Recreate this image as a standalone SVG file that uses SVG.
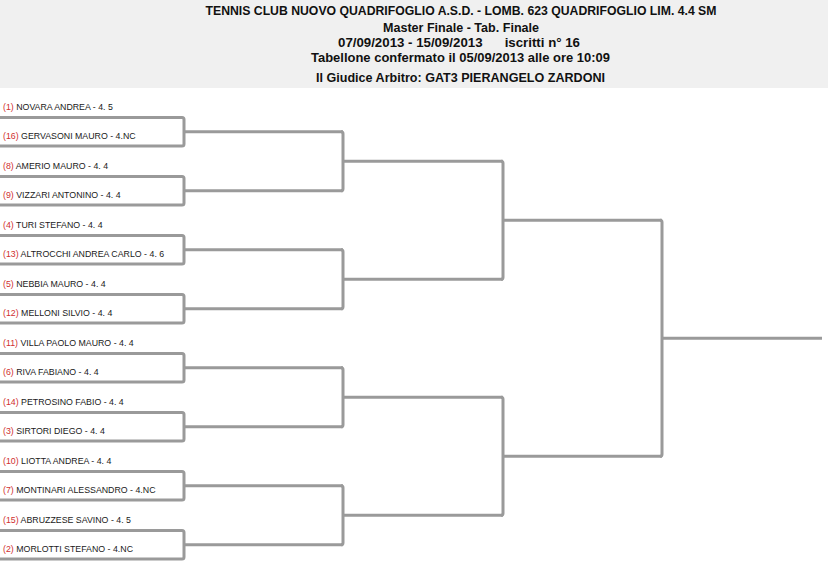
<svg xmlns="http://www.w3.org/2000/svg" width="828" height="565" viewBox="0 0 828 565">
<style>
.hd{font-family:"Liberation Sans",Arial,sans-serif;font-weight:bold;font-size:12.5px;fill:#111;text-anchor:middle}
.pl{font-family:"Liberation Sans",Arial,sans-serif;font-size:8.8px;fill:#1a1a1a}
.sd{fill:#d03030}
.ln{fill:none;stroke:#9a9a9a;stroke-width:3;stroke-linejoin:round}
</style>
<rect x="0" y="0" width="828" height="88" fill="#f0f0f0"/>
<g id="header">
<text class="hd" x="461" y="14.5" textLength="511" lengthAdjust="spacingAndGlyphs">TENNIS CLUB NUOVO QUADRIFOGLIO A.S.D. - LOMB. 623 QUADRIFOGLIO LIM. 4.4 SM</text>
<text class="hd" x="461" y="32" textLength="156" lengthAdjust="spacingAndGlyphs">Master Finale - Tab. Finale</text>
<text class="hd" x="459" y="46.5" textLength="242" lengthAdjust="spacingAndGlyphs" xml:space="preserve">07/09/2013 - 15/09/2013      iscritti n° 16</text>
<text class="hd" x="460.5" y="61.5" textLength="299" lengthAdjust="spacingAndGlyphs">Tabellone confermato il 05/09/2013 alle ore 10:09</text>
<text class="hd" x="460.5" y="81.5" textLength="289" lengthAdjust="spacingAndGlyphs">Il Giudice Arbitro: GAT3 PIERANGELO ZARDONI</text>
</g>
<g id="connectors">
<path class="ln" d="M0,117.5H182Q184,117.5 184,119.5V144Q184,146 182,146H0M184,131.75H343"/>
<path class="ln" d="M0,176.5H182Q184,176.5 184,178.5V203Q184,205 182,205H0M184,190.75H343"/>
<path class="ln" d="M0,235.5H182Q184,235.5 184,237.5V262Q184,264 182,264H0M184,249.75H343"/>
<path class="ln" d="M0,294.5H182Q184,294.5 184,296.5V321Q184,323 182,323H0M184,308.75H343"/>
<path class="ln" d="M0,353.5H182Q184,353.5 184,355.5V380Q184,382 182,382H0M184,367.75H343"/>
<path class="ln" d="M0,412.5H182Q184,412.5 184,414.5V439Q184,441 182,441H0M184,426.75H343"/>
<path class="ln" d="M0,471.5H182Q184,471.5 184,473.5V498Q184,500 182,500H0M184,485.75H343"/>
<path class="ln" d="M0,530.5H182Q184,530.5 184,532.5V557Q184,559 182,559H0M184,544.75H343"/>
<path class="ln" d="M341,131.75Q343,131.75 343,133.75V188.75Q343,190.75 341,190.75M343,161.25H503"/>
<path class="ln" d="M341,249.75Q343,249.75 343,251.75V306.75Q343,308.75 341,308.75M343,279.25H503"/>
<path class="ln" d="M341,367.75Q343,367.75 343,369.75V424.75Q343,426.75 341,426.75M343,397.25H503"/>
<path class="ln" d="M341,485.75Q343,485.75 343,487.75V542.75Q343,544.75 341,544.75M343,515.25H503"/>
<path class="ln" d="M501,161.25Q503,161.25 503,163.25V277.25Q503,279.25 501,279.25M503,220.25H662"/>
<path class="ln" d="M501,397.25Q503,397.25 503,399.25V513.25Q503,515.25 501,515.25M503,456.25H662"/>
<path class="ln" d="M660,220.25Q662,220.25 662,222.25V454.25Q662,456.25 660,456.25M662,338.25H822"/>
</g>
<g id="p1"><text class="pl" x="3" y="109.5"><tspan class="sd">(1)</tspan> NOVARA ANDREA - 4. 5</text></g>
<g id="p16"><text class="pl" x="3" y="139"><tspan class="sd">(16)</tspan> GERVASONI MAURO - 4.NC</text></g>
<g id="p8"><text class="pl" x="3" y="168.5"><tspan class="sd">(8)</tspan> AMERIO MAURO - 4. 4</text></g>
<g id="p9"><text class="pl" x="3" y="198"><tspan class="sd">(9)</tspan> VIZZARI ANTONINO - 4. 4</text></g>
<g id="p4"><text class="pl" x="3" y="227.5"><tspan class="sd">(4)</tspan> TURI STEFANO - 4. 4</text></g>
<g id="p13"><text class="pl" x="3" y="257"><tspan class="sd">(13)</tspan> ALTROCCHI ANDREA CARLO - 4. 6</text></g>
<g id="p5"><text class="pl" x="3" y="286.5"><tspan class="sd">(5)</tspan> NEBBIA MAURO - 4. 4</text></g>
<g id="p12"><text class="pl" x="3" y="316"><tspan class="sd">(12)</tspan> MELLONI SILVIO - 4. 4</text></g>
<g id="p11"><text class="pl" x="3" y="345.5"><tspan class="sd">(11)</tspan> VILLA PAOLO MAURO - 4. 4</text></g>
<g id="p6"><text class="pl" x="3" y="375"><tspan class="sd">(6)</tspan> RIVA FABIANO - 4. 4</text></g>
<g id="p14"><text class="pl" x="3" y="404.5"><tspan class="sd">(14)</tspan> PETROSINO FABIO - 4. 4</text></g>
<g id="p3"><text class="pl" x="3" y="434"><tspan class="sd">(3)</tspan> SIRTORI DIEGO - 4. 4</text></g>
<g id="p10"><text class="pl" x="3" y="463.5"><tspan class="sd">(10)</tspan> LIOTTA ANDREA - 4. 4</text></g>
<g id="p7"><text class="pl" x="3" y="493"><tspan class="sd">(7)</tspan> MONTINARI ALESSANDRO - 4.NC</text></g>
<g id="p15"><text class="pl" x="3" y="522.5"><tspan class="sd">(15)</tspan> ABRUZZESE SAVINO - 4. 5</text></g>
<g id="p2"><text class="pl" x="3" y="552"><tspan class="sd">(2)</tspan> MORLOTTI STEFANO - 4.NC</text></g>
</svg>
